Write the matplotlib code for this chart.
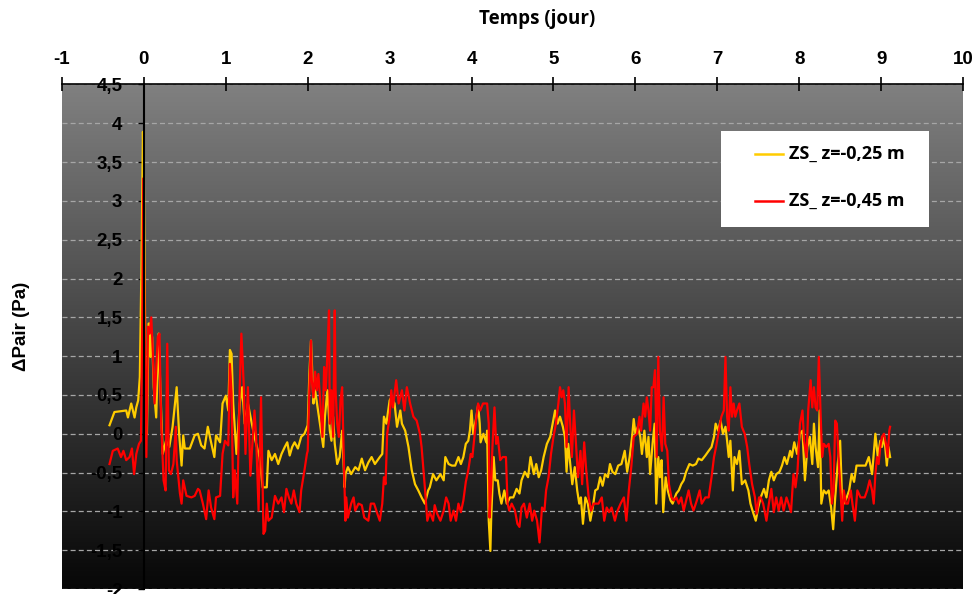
import numpy as np
import matplotlib
matplotlib.use("Agg")
import matplotlib.pyplot as plt
from matplotlib.colors import LinearSegmentedColormap
from matplotlib.patches import Rectangle
from matplotlib.lines import Line2D

# ---------------- data ----------------
x_ticks = [-1, 0, 1, 2, 3, 4, 5, 6, 7, 8, 9, 10]
y_ticks = [-2, -1.5, -1, -0.5, 0, 0.5, 1, 1.5, 2, 2.5, 3, 3.5, 4, 4.5]
y_tick_labels = ["-2", "-1,5", "-1", "-0,5", "0", "0,5", "1", "1,5", "2", "2,5",
                 "3", "3,5", "4", "4,5"]
series_labels = ["ZS_ z=-0,25 m", "ZS_ z=-0,45 m"]

t_y25 = [-0.42, -0.36, -0.216, -0.195, -0.155, -0.114, -0.093, -0.07, -0.05, -0.03,
         -0.012, 0.0, 0.017, 0.037, 0.057, 0.07, 0.08, 0.10, 0.12, 0.15,
         0.18, 0.20, 0.23, 0.27, 0.31, 0.35, 0.40, 0.43, 0.46, 0.48,
         0.50, 0.56, 0.62, 0.66, 0.70, 0.74, 0.78, 0.82, 0.86, 0.88,
         0.93, 0.96, 1.00, 1.03, 1.05, 1.07, 1.09, 1.13, 1.17, 1.20,
         1.23, 1.27, 1.31, 1.35, 1.41, 1.45,
         1.50, 1.52, 1.56, 1.60, 1.64, 1.68, 1.72, 1.75, 1.78, 1.81,
         1.84, 1.88, 1.92, 1.96, 2.00, 2.02, 2.04, 2.07, 2.09, 2.12,
         2.15, 2.19, 2.21, 2.24, 2.27, 2.29, 2.31, 2.33, 2.36, 2.39,
         2.42, 2.45, 2.46, 2.49, 2.53, 2.58, 2.62, 2.66, 2.70, 2.74,
         2.78, 2.82, 2.88, 2.91, 2.93, 2.96, 3.00, 3.02, 3.06, 3.09,
         3.13, 3.15, 3.19, 3.23, 3.27, 3.31, 3.35, 3.39, 3.43, 3.47,
         3.49, 3.53, 3.57, 3.62, 3.66, 3.68, 3.72, 3.76, 3.80, 3.84,
         3.87, 3.90, 3.93, 3.96, 3.98, 4.00, 4.02, 4.06, 4.08, 4.10,
         4.11, 4.145, 4.18, 4.19, 4.21, 4.23, 4.24, 4.27, 4.29, 4.32,
         4.34, 4.365, 4.40, 4.43, 4.47, 4.51, 4.55, 4.585, 4.61, 4.65,
         4.69, 4.72, 4.76, 4.79, 4.82, 4.85, 4.88, 4.92, 4.96, 4.99,
         5.02, 5.05, 5.08, 5.115, 5.14, 5.16, 5.18, 5.20, 5.23, 5.26,
         5.29, 5.315, 5.335, 5.36, 5.39, 5.42, 5.45, 5.48,
         5.51, 5.54, 5.57, 5.60, 5.63, 5.665, 5.69, 5.72, 5.755, 5.79,
         5.83, 5.87, 5.90, 5.93, 5.96, 5.98, 6.00, 6.03, 6.06, 6.08,
         6.11, 6.14, 6.16, 6.18, 6.21, 6.235, 6.255, 6.28, 6.30, 6.32,
         6.34, 6.37, 6.395, 6.43, 6.455, 6.50, 6.53, 6.56, 6.59, 6.62,
         6.66, 6.70, 6.74, 6.77, 6.81, 6.855, 6.895, 6.93, 6.96, 6.98,
         7.01, 7.04, 7.07, 7.10, 7.12, 7.14, 7.16, 7.19, 7.21, 7.24,
         7.27, 7.30, 7.34, 7.38, 7.405, 7.43, 7.47, 7.50,
         7.53, 7.57, 7.60, 7.63, 7.66, 7.69, 7.72, 7.76, 7.79, 7.82,
         7.85, 7.89, 7.91, 7.94, 7.975, 8.01, 8.04, 8.07, 8.10, 8.13,
         8.16, 8.18, 8.20, 8.23, 8.25, 8.27, 8.30, 8.33, 8.36, 8.39,
         8.415, 8.44, 8.47, 8.50, 8.52, 8.545, 8.58, 8.61, 8.64, 8.67,
         8.70, 8.75, 8.81, 8.85, 8.89, 8.93, 8.96, 8.99, 9.01, 9.04,
         9.07, 9.09, 9.11]
p_y25 = [0.11, 0.28, 0.30, 0.21, 0.39, 0.21, 0.34, 0.43, 0.73, 2.15,
         3.89, 3.35, 1.03, 0.0, 1.42, 1.42, 0.99, 1.25, 0.60, 0.21,
         1.29, 0.60, -0.26, -0.09, -0.17, 0.09, 0.60, 0.0, -0.41, -0.02,
         -0.19, -0.19, -0.02, 0.0, -0.15, -0.19, 0.09, -0.11, -0.30, -0.02,
         -0.11, 0.39, 0.49, 0.30, 1.08, 1.03, 0.39, -0.26, 0.39, 0.60,
         0.13, 0.39, 0.17, -0.04, -0.30, -0.69,
         -0.69, -0.22, -0.34, -0.26, -0.39, -0.26, -0.17, -0.11, -0.28, -0.17,
         -0.11, -0.19, -0.04, 0.0, 0.11, 0.77, 1.20, 0.39, 0.56, 0.34,
         0.13, -0.17, 0.22, 0.56, 0.04, -0.09, 0.22, -0.13, -0.39, -0.30,
         0.04, -0.69, -0.52, -0.43, -0.52, -0.43, -0.47, -0.32, -0.47, -0.37,
         -0.30, -0.39, -0.30, -0.26, 0.22, 0.13, 0.43, 0.47, 0.39, 0.09,
         0.30, 0.13, 0.04, -0.17, -0.47, -0.65, -0.73, -0.82, -0.90, -0.73,
         -0.69, -0.52, -0.60, -0.52, -0.60, -0.30, -0.39, -0.41, -0.41, -0.30,
         -0.39, -0.30, -0.13, -0.09, 0.04, 0.30, 0.0, 0.22, 0.37, 0.13,
         -0.11, 0.0, -0.11, 0.04, -1.12, -1.51, -1.08, -0.30, -0.60, -0.60,
         -0.77, -0.90, -0.73, -0.90, -0.82, -0.82, -0.71, -0.77, -0.60, -0.49,
         -0.56, -0.30, -0.52, -0.39, -0.56, -0.47, -0.30, -0.13, -0.04, 0.13,
         0.30, 0.13, 0.22, 0.09, -0.04, -0.49, -0.13, -0.34, -0.65, -0.43,
         -0.73, -0.90, -0.82, -1.16, -0.82, -0.90, -1.12, -0.95,
         -0.73, -0.71, -0.56, -0.67, -0.52, -0.56, -0.39, -0.49, -0.52, -0.41,
         -0.39, -0.22, -0.49, -0.30, -0.04, 0.19, 0.0, 0.09, -0.04, -0.26,
         0.04, -0.30, -0.04, -0.52, -0.13, 0.13, -0.90, -0.30, -0.56, -0.34,
         -1.01, -0.56, -0.73, -0.86, -0.90, -0.77, -0.73, -0.65, -0.60, -0.49,
         -0.39, -0.41, -0.39, -0.32, -0.34, -0.28, -0.22, -0.17, -0.04, 0.13,
         0.04, 0.17, 0.0, 0.09, -0.09, -0.30, -0.09, -0.73, -0.30, -0.39,
         -0.22, -0.65, -0.60, -0.73, -0.90, -0.99, -1.12, -0.95,
         -0.82, -0.71, -0.82, -0.60, -0.49, -0.60, -0.52, -0.49, -0.41, -0.30,
         -0.39, -0.22, -0.30, -0.11, -0.26, 0.0, 0.04, -0.60, -0.17, -0.04,
         -0.39, 0.13, -0.17, -0.43, 0.30, -0.90, -0.73, -0.77, -0.73, -0.95,
         -1.23, -0.82, -0.39, -0.09, -0.73, -0.90, -0.82, -0.73, -0.52, -0.62,
         -0.41, -0.41, -0.41, -0.30, -0.52, 0.0, -0.30, -0.09, -0.17, -0.04,
         -0.41, -0.17, -0.30]

t_y45 = [-0.42, -0.38, -0.32, -0.28, -0.25, -0.216, -0.175, -0.146, -0.12, -0.093,
         -0.06, -0.036, -0.02, -0.008, 0.008, 0.03, 0.05, 0.07, 0.09, 0.11,
         0.13, 0.15, 0.17, 0.19, 0.21, 0.24, 0.265, 0.285, 0.305, 0.33,
         0.36, 0.39, 0.40, 0.44, 0.46, 0.48, 0.52, 0.58, 0.62, 0.66,
         0.68, 0.72, 0.76, 0.79, 0.82, 0.86, 0.88, 0.93, 0.96, 0.99,
         1.03, 1.05, 1.07, 1.09, 1.11, 1.14, 1.17, 1.19, 1.22, 1.24,
         1.27, 1.30, 1.35, 1.37, 1.40, 1.43, 1.46,
         1.48, 1.50, 1.52, 1.56, 1.60, 1.64, 1.68, 1.71, 1.74, 1.77,
         1.80, 1.83, 1.86, 1.90, 1.92, 1.96, 1.99, 2.00, 2.02, 2.04,
         2.05, 2.07, 2.09, 2.11, 2.13, 2.15, 2.18, 2.20, 2.22, 2.24,
         2.26, 2.27, 2.29, 2.31, 2.33, 2.34, 2.36, 2.38, 2.40, 2.42,
         2.44, 2.46, 2.47, 2.49, 2.53, 2.56, 2.58, 2.62, 2.66, 2.69,
         2.74, 2.77, 2.81, 2.85, 2.88, 2.91, 2.93, 2.95, 2.97, 3.00,
         3.02, 3.04, 3.08, 3.11, 3.15, 3.18, 3.21, 3.25, 3.29, 3.33,
         3.37, 3.39, 3.43, 3.46,
         3.49, 3.53, 3.55, 3.58, 3.62, 3.66, 3.69, 3.72, 3.745, 3.78,
         3.81, 3.84, 3.87, 3.90, 3.93, 3.96, 3.99, 4.01, 4.035, 4.06,
         4.08, 4.105, 4.14, 4.19, 4.21, 4.22, 4.24, 4.255, 4.28, 4.30,
         4.32, 4.35, 4.38, 4.42, 4.44, 4.46, 4.49, 4.53, 4.56, 4.585,
         4.61, 4.64, 4.675, 4.71, 4.74, 4.765, 4.80, 4.83, 4.86, 4.89,
         4.91, 4.94, 4.97, 5.00, 5.03, 5.06, 5.08, 5.10, 5.12, 5.14,
         5.16, 5.185, 5.20, 5.225, 5.25, 5.28, 5.30, 5.33, 5.35, 5.375,
         5.40, 5.43, 5.46, 5.49,
         5.51, 5.55, 5.59, 5.62, 5.65, 5.68, 5.71, 5.75, 5.775, 5.82,
         5.86, 5.89, 5.92, 5.95, 5.98, 6.02, 6.05, 6.07, 6.10, 6.12,
         6.14, 6.16, 6.18, 6.20, 6.22, 6.24, 6.26, 6.28, 6.30, 6.325,
         6.345, 6.365, 6.39, 6.41, 6.44, 6.47, 6.50, 6.53, 6.56, 6.59,
         6.62, 6.65, 6.68, 6.71, 6.75, 6.785, 6.81, 6.855, 6.895, 6.93,
         6.96, 6.985, 7.02, 7.05, 7.08, 7.10, 7.12, 7.14, 7.16, 7.18,
         7.20, 7.22, 7.24, 7.27, 7.30, 7.335, 7.365, 7.39, 7.425, 7.46,
         7.48, 7.51,
         7.53, 7.56, 7.60, 7.63, 7.66, 7.69, 7.72, 7.75, 7.78, 7.81,
         7.845, 7.87, 7.90, 7.93, 7.955, 7.98, 8.01, 8.04, 8.06, 8.09,
         8.11, 8.14, 8.16, 8.18, 8.20, 8.22, 8.24, 8.26, 8.28, 8.30,
         8.33, 8.36, 8.38, 8.40, 8.42, 8.44, 8.46, 8.485, 8.50, 8.525,
         8.545, 8.57, 8.595, 8.63, 8.65, 8.68, 8.71, 8.75, 8.80, 8.83,
         8.86, 8.89, 8.91, 8.93, 8.95, 8.97, 8.99, 9.01, 9.035, 9.06,
         9.08, 9.10, 9.11]
p_y45 = [-0.39, -0.22, -0.19, -0.30, -0.22, -0.34, -0.30, -0.19, -0.52, -0.26,
         -0.13, -0.09, 1.46, 3.29, 1.46, -0.30, 1.38, 1.29, 1.50, 1.03,
         0.39, 0.82, 1.25, 1.29, 0.17, -0.60, -0.73, 1.16, -0.47, -0.52,
         -0.39, 0.09, -0.34, -0.77, -0.90, -0.60, -0.80, -0.82, -0.80, -0.71,
         -0.73, -0.90, -1.10, -0.73, -0.95, -1.10, -0.82, -0.80, -0.26, -0.09,
         -0.15, 0.90, 0.52, -0.82, -0.47, -0.90, 0.60, 1.29, 0.60, -0.26,
         0.60, -0.54, 0.30, -0.04, -0.99, 0.47, -1.29,
         -1.25, -0.90, -1.12, -1.08, -0.80, -0.90, -0.82, -1.01, -0.71, -0.82,
         -0.90, -0.73, -0.90, -1.01, -0.73, -0.47, -0.26, -0.22, 0.56, 1.20,
         0.69, 0.47, 0.80, 0.56, 0.77, 0.47, -0.04, 0.86, 0.56, 1.03,
         1.59, 0.13, 0.56, -0.04, 1.59, 0.56, 0.13, -0.04, 0.43, 0.60,
         -0.30, -1.12, -0.82, -1.08, -0.90, -0.82, -0.99, -0.90, -0.92, -1.08,
         -1.12, -0.90, -0.90, -1.03, -1.12, -0.90, -0.56, -0.65, 0.0, 0.22,
         0.56, 0.34, 0.69, 0.39, 0.56, 0.30, 0.60, 0.39, 0.22, 0.17,
         0.0, -0.17, -0.69, -1.12,
         -1.01, -1.12, -0.92, -1.03, -1.12, -0.99, -0.82, -0.90, -1.12, -0.99,
         -1.12, -0.90, -1.01, -0.86, -0.62, -0.47, -0.26, -0.30, -0.04, 0.22,
         0.39, 0.30, 0.39, 0.39, 0.13, -1.08, -0.65, -0.17, 0.34, -0.13,
         -0.04, -0.34, -0.30, -0.30, -0.90, -0.99, -0.90, -0.99, -1.16, -1.20,
         -0.95, -0.90, -1.08, -0.90, -1.12, -0.99, -1.12, -1.40, -0.95, -0.99,
         -0.73, -0.56, -0.26, -0.04, 0.13, 0.39, 0.60, 0.47, 0.56, 0.39,
         -0.17, 0.60, 0.22, -0.30, 0.30, -0.22, -0.56, -0.22, -0.65, -0.11,
         -0.47, -0.82, -0.99, -0.90,
         -0.90, -0.90, -0.82, -1.12, -0.95, -1.01, -0.95, -1.12, -1.01, -0.90,
         -0.82, -1.12, -0.73, -0.43, -0.04, 0.0, 0.22, 0.04, 0.39, 0.22,
         0.47, 0.30, 0.04, 0.60, 0.60, 0.82, -0.30, 0.99, 0.04, -0.22,
         0.47, -0.13, -0.22, -0.65, -0.82, -0.86, -0.82, -0.90, -0.82, -0.99,
         -0.86, -0.73, -0.90, -0.99, -0.86, -0.73, -0.90, -0.82, -0.82, -0.56,
         -0.30, -0.17, 0.04, 0.22, 0.30, 0.99, 0.22, 0.04, 0.60, 0.22,
         0.39, 0.22, 0.30, 0.39, 0.09, 0.0, -0.17, -0.39, -0.65, -0.82,
         -1.03, -0.82,
         -0.82, -0.90, -1.12, -0.90, -0.71, -1.01, -0.82, -0.99, -0.82, -0.99,
         -0.82, -0.90, -1.01, -0.52, -0.69, -0.47, 0.13, 0.30, -0.09, -0.30,
         0.30, 0.69, 0.34, 0.60, 0.34, 0.30, 0.99, 0.30, -0.30, -0.13,
         -0.17, -0.13, -0.30, -0.90, -0.73, 0.17, 0.13, -0.39, -0.65, -1.12,
         -0.73, -0.90, -0.90, -0.73, -0.90, -1.12, -0.73, -0.82, -0.82, -0.73,
         -0.60, -0.73, -0.90, -0.52, -0.30, -0.39, -0.17, -0.04, 0.0, -0.13,
         -0.30, 0.04, 0.09]

# ---------------- figure ----------------
W, H, DPI = 976, 594, 100
fig = plt.figure(figsize=(W / DPI, H / DPI), dpi=DPI)
left, right, top, bottom = 62, 963, 84.5, 589
ax = fig.add_axes([left / W, 1 - bottom / H, (right - left) / W, (bottom - top) / H])

xmin, xmax, ymin, ymax = -1, 10, -2, 4.5
ax.set_xlim(xmin, xmax)
ax.set_ylim(ymin, ymax)

# gradient background (gray at top -> near black at bottom)
grad = np.linspace(0, 1, 256).reshape(-1, 1)
cmap = LinearSegmentedColormap.from_list("bg", ["#808080", "#070707"])
ax.imshow(grad, extent=[xmin, xmax, ymin, ymax], origin="upper", aspect="auto",
          cmap=cmap, zorder=0, interpolation="bilinear")
ax.set_xlim(xmin, xmax)
ax.set_ylim(ymin, ymax)

# dashed horizontal grid
for yv in y_ticks:
    ax.axhline(yv, color="#a6a6a6", lw=0.9, ls=(0, (4, 2.5)), zorder=1)

tick_font = ["Liberation Sans Narrow", "Liberation Sans", "DejaVu Sans"]
title_font = ["Open Sans", "Lato", "DejaVu Sans"]

l1, = ax.plot(t_y25, p_y25, color="#FFCC00", lw=1.6, zorder=3,
              solid_joinstyle="round")
l2, = ax.plot(t_y45, p_y45, color="#FF0000", lw=1.6, zorder=4,
              solid_joinstyle="round")

# spines
for s in ["bottom", "right"]:
    ax.spines[s].set_visible(False)
ax.spines["top"].set_color("black")
ax.spines["top"].set_linewidth(1.2)
ax.spines["left"].set_position(("data", 0))
ax.spines["left"].set_color("black")
ax.spines["left"].set_linewidth(1.5)
ax.spines["left"].set_zorder(5)

ax.xaxis.set_ticks_position("top")
ax.xaxis.set_label_position("top")
ax.set_xticks(x_ticks)
ax.set_xticklabels([str(v) for v in x_ticks])
ax.tick_params(axis="x", direction="inout", length=10, width=1.2, pad=7,
               labelsize=13.5)
ax.set_yticks(y_ticks)
ax.set_yticklabels(y_tick_labels)
ax.tick_params(axis="y", direction="out", length=4.5, width=1.0, pad=11,
               labelsize=13.5)
for lab in ax.get_xticklabels() + ax.get_yticklabels():
    lab.set_family(tick_font)
    lab.set_fontweight("bold")

fig.text(537 / W, 1 - 19 / H, "Temps (jour)", ha="center", va="center",
         fontsize=13.5, fontweight="bold", family=title_font)
fig.text(22 / W, 1 - 326 / H, "ΔPair (Pa)", ha="center", va="center",
         rotation=90, fontsize=13.5, fontweight="bold",
         family=["Liberation Sans", "DejaVu Sans"])

# legend box
bx0 = (721 - left) / (right - left)
bx1 = (929 - left) / (right - left)
by1 = 1 - (131 - top) / (bottom - top)
by0 = 1 - (227 - top) / (bottom - top)
ax.add_patch(Rectangle((bx0, by0), bx1 - bx0, by1 - by0, transform=ax.transAxes,
                       facecolor="white", edgecolor="none", zorder=6))
for handle, lab, yy in [(l1, series_labels[0], 154), (l2, series_labels[1], 201)]:
    yf = 1 - (yy - top) / (bottom - top)
    hx0 = (755 - left) / (right - left)
    hx1 = (783 - left) / (right - left)
    ax.add_line(Line2D([hx0, hx1], [yf, yf], transform=ax.transAxes,
                       color=handle.get_color(), lw=1.8, zorder=7))
    ax.text((789 - left) / (right - left), yf, lab, transform=ax.transAxes,
            ha="left", va="center", fontsize=13, fontweight="bold",
            family=title_font, zorder=7)

fig.savefig("out.png", dpi=DPI)
